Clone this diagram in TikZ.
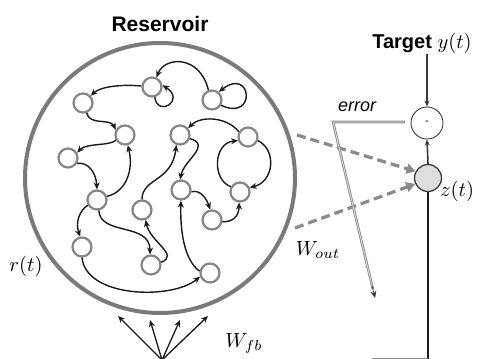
\documentclass[tikz,border=0pt]{standalone}
\usepackage{fontspec}
\usepackage{graphicx}
\newfontfamily\labelsans{Liberation Sans}
\usetikzlibrary{arrows.meta,calc}
\definecolor{resgray}{HTML}{7A7A7A}
\definecolor{unitgray}{HTML}{858585}
\definecolor{linkblack}{HTML}{1A1A1A}
\definecolor{dashgray}{HTML}{8A8A8A}
\definecolor{errgray}{HTML}{8C8C8C}
\definecolor{outdark}{HTML}{3A3A3A}
\newcommand{\bigmath}[1]{{\fontsize{10}{12}\selectfont\scalebox{2.05}{$#1$}}}
\begin{document}
\begin{tikzpicture}[x=1pt,y=-1pt,
  unit/.style={circle, draw=unitgray, line width=2.2pt, fill=white,
               minimum size=19pt, inner sep=0pt},
  link/.style={draw=linkblack, line width=1.4pt,
               -{Stealth[length=7pt,width=6pt]}},
  readout/.style={draw=dashgray, line width=3.2pt, dash pattern=on 9pt off 5pt,
               -{Triangle[length=9pt,width=10pt]}},
  feed/.style={draw=linkblack, line width=1.3pt,
               -{Stealth[length=7pt,width=6pt]}},
  mathlabel/.style={inner sep=0pt},
]
\useasboundingbox (0,0) rectangle (478,358);
\clip (0,0) rectangle (478,358);

% reservoir boundary and title
\draw[resgray, line width=4pt] (160,178) circle[radius=135pt];
\node[font=\labelsans\bfseries\fontsize{21}{23}\selectfont] (title) at (160,24) {Reservoir};

% reservoir units
\node[unit] (A) at (152,87) {};
\node[unit] (B) at (83,103) {};
\node[unit] (C) at (125,135) {};
\node[unit] (D) at (68,158) {};
\node[unit] (E) at (212,100) {};
\node[unit] (F) at (180,135) {};
\node[unit] (G) at (248,137) {};
\node[unit] (H) at (97,200) {};
\node[unit] (I) at (142,210) {};
\node[unit] (J) at (82,247) {};
\node[unit] (K) at (151,265) {};
\node[unit] (L) at (181,190) {};
\node[unit] (M) at (240,192) {};
\node[unit] (N) at (212,220) {};
\node[unit] (O) at (210,273) {};

% recurrent connections
\draw[link] (A) .. controls (120,84) and (100,87) .. (B);
\draw[link] (A.-75) .. controls (158,118) and (186,100) .. (A.10);
\draw[link] (E.110) .. controls (200,55) and (165,56) .. (A.65);
\draw[link] (E.-30) .. controls (257,122) and (252,66) .. (E.50);
\draw[link] (B.-70) .. controls (90,126) and (110,118) .. (C.150);
\draw[link] (C.-150) .. controls (110,146) and (86,143) .. (D.30);
\draw[link] (D.-30) .. controls (88,162) and (96,172) .. (H.90);
\draw[link] (H.20) .. controls (126,192) and (134,170) .. (C.-75);
\draw[link] (H.-150) .. controls (80,210) and (75,222) .. (J.100);
\draw[link] (H.-80) .. controls (100,236) and (150,222) .. (K.95);
\draw[link] (K.15) .. controls (180,255) and (150,242) .. (I.-70);
\draw[link] (I.90) .. controls (142,178) and (172,182) .. (F.-110);
\draw[link] (F.-20) .. controls (212,145) and (184,160) .. (L.95);
\draw[link] (G.150) .. controls (226,116) and (200,116) .. (F.40);
\draw[link] (M.150) .. controls (212,180) and (213,143) .. (G.-160);
\draw[link] (G.-20) .. controls (277,150) and (274,182) .. (M.25);
\draw[link] (L.-10) .. controls (201,189) and (207,200) .. (N.100);
\draw[link] (N.-10) .. controls (233,222) and (239,216) .. (M.-95);
\draw[link] (O.170) .. controls (184,260) and (180,230) .. (L.-90);
\draw[link] (J.-90) .. controls (86,298) and (172,300) .. (O.-160);

% state and weight labels
\node[mathlabel] (rt) at (26,266) {\bigmath{r(t)}};
\node[mathlabel] (wout) at (318,250) {\bigmath{W_{out}}};
\node[mathlabel] (wfb) at (244,343) {\bigmath{W_{fb}}};

% feedback fan into the reservoir
\coordinate (fb) at (162,360);
\coordinate (f1) at (118,316);
\coordinate (f2) at (150,320);
\coordinate (f3) at (180,320);
\coordinate (f4) at (208,316);
\foreach \t in {f1,f2,f3,f4} \draw[feed] (fb) -- (\t);

% output side
\node[font=\labelsans\bfseries\fontsize{20}{22}\selectfont, inner sep=1pt] (tgt) at (422,43)
  {Target \bigmath{y(t)}};
\node[circle, draw=outdark, line width=0.9pt, minimum size=32pt, inner sep=0pt,
      font=\labelsans\fontsize{11}{12}\selectfont] (minus) at (427,123) {-};
\node[circle, draw=outdark, fill=black!13, line width=1.3pt, minimum size=27pt,
      inner sep=0pt] (z) at (428,178) {};
\node[mathlabel, anchor=west] (zt) at (440,191) {\bigmath{z(t)}};

\draw[outdark, line width=1.4pt, -{Stealth[length=6pt,width=5pt]}]
  (minus |- tgt.south) -- (minus.north);
\draw[outdark, line width=1.6pt, -{Stealth[length=6pt,width=5pt]}]
  (z.north) -- (minus.south);
\coordinate (zdown) at (428,358.5);
\coordinate (zback) at (372,358.5);
\draw[linkblack, line width=1.6pt] (z.south) -- (zdown);
\draw[black!45, line width=1.2pt] (zdown) -- (zback);

% readout connections
\coordinate (d1) at (297,135);
\coordinate (d2) at (295,228);
\draw[readout] (d1) -- (z.152);
\draw[readout] (d2) -- (z.-155);

% error signal
\coordinate (estart) at (405,122);
\coordinate (ecorner) at (333,122);
\coordinate (eend) at (375,298);
\draw[errgray, line width=2.6pt, line join=miter]
  (estart) -- (ecorner) -- ($(ecorner)!0.95!(eend)$);
\draw[black!12, line width=0.8pt, line join=miter, shorten <=0.9pt]
  (estart) -- (ecorner) -- ($(ecorner)!0.94!(eend)$);
\draw[outdark, line width=0.6pt, -{Stealth[length=7pt,width=6pt]}]
  ($(ecorner)!0.93!(eend)$) -- (eend);
\node[font=\labelsans\itshape\fontsize{18}{20}\selectfont, inner sep=0pt] (err) at (357,107) {error};
\end{tikzpicture}
\end{document}
